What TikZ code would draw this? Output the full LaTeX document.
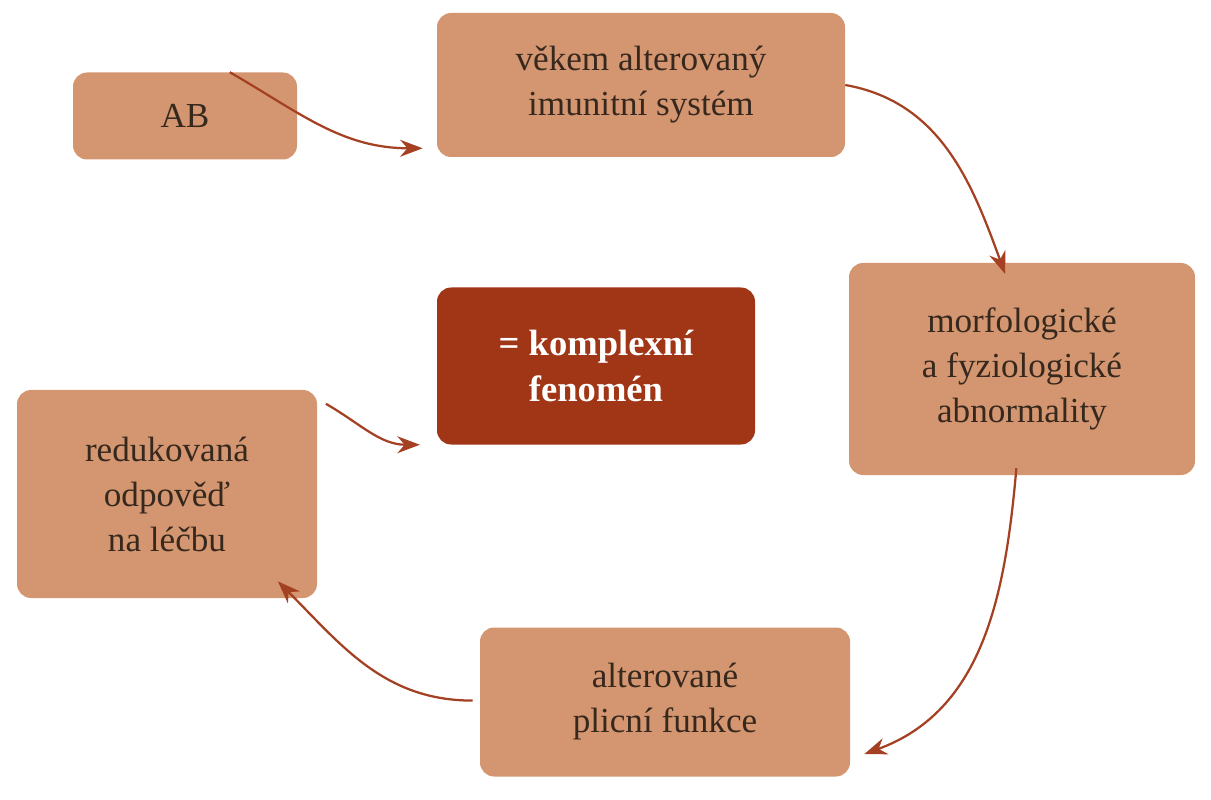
\documentclass[tikz,border=0pt]{standalone}
\usepackage{fontspec}
\setmainfont{Liberation Serif}
\usetikzlibrary{arrows.meta}
\definecolor{boxc}{RGB}{212,150,112}
\definecolor{darkc}{RGB}{160,54,22}
\definecolor{arrc}{RGB}{165,65,35}
\definecolor{txtc}{RGB}{55,40,30}
\begin{document}
\begin{tikzpicture}[x=0.025cm,y=-0.025cm,
  bx/.style={fill=boxc,rounded corners=10pt,text=txtc,align=center,font=\fontsize{25}{32}\selectfont,inner sep=0pt},
  dk/.style={bx,fill=darkc,text=white,font=\fontsize{26}{33}\selectfont\bfseries},
  ar/.style={draw=arrc,line width=1.6pt,-{Stealth[length=16pt,width=12pt]}}]
\useasboundingbox (0,0) rectangle (1211,800);
\node[bx,minimum width=224*0.025cm,minimum height=87*0.025cm] (ab) at (185,116) {AB};
\node[bx,minimum width=408*0.025cm,minimum height=144*0.025cm] (imm) at (641,85) {věkem alterovaný\\imunitní systém};
\node[bx,minimum width=346*0.025cm,minimum height=212*0.025cm] (mor) at (1022,369) {morfologické\\a fyziologické\\abnormality};
\node[dk,minimum width=318*0.025cm,minimum height=157*0.025cm] (kom) at (596,366) {= komplexní\\fenomén};
\node[bx,minimum width=300*0.025cm,minimum height=208*0.025cm] (red) at (167,494) {redukovaná\\odpověď\\na léčbu};
\node[bx,minimum width=370*0.025cm,minimum height=149*0.025cm] (plc) at (665,702) {alterované\\plicní funkce};
\draw[ar] ([xshift=-48]ab.north east) to[out=-30,in=180] ([xshift=-10,yshift=-45]imm.west);
\draw[ar] ([yshift=0]imm.east) to[out=-10,in=110] ([xshift=-12,yshift=-8]mor.north);
\draw[ar] ([xshift=-4,yshift=5]mor.south) to[out=-95,in=20] ([xshift=10,yshift=-37]plc.east);
\draw[ar] ([xshift=-5,yshift=1]plc.west) to[out=180,in=-45] ([xshift=-28,yshift=12]red.south east);
\draw[ar] ([xshift=113,yshift=-10]red.north) to[out=-30,in=180] ([xshift=-12,yshift=-56]kom.west);
\end{tikzpicture}
\end{document}
